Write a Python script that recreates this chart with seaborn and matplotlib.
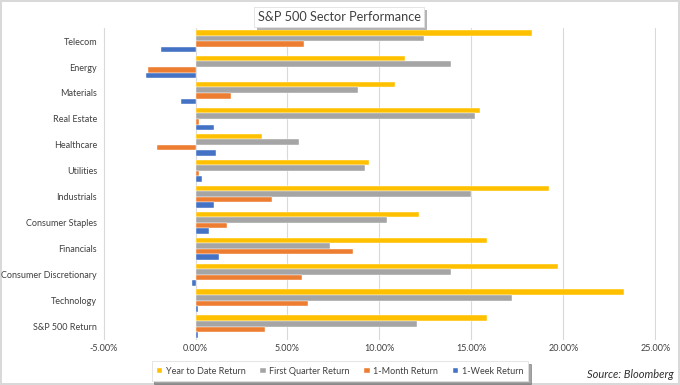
import matplotlib.patches as mpatches
import matplotlib.pyplot as plt
import matplotlib.ticker as mticker
import pandas as pd
import seaborn as sns

sectors: list[str] = [
    "Telecom",
    "Energy",
    "Materials",
    "Real Estate",
    "Healthcare",
    "Utilities",
    "Industrials",
    "Consumer Staples",
    "Financials",
    "Consumer Discretionary",
    "Technology",
    "S&P 500 Return",
]
series_names: list[str] = [
    "Year to Date Return",
    "First Quarter Return",
    "1-Month Return",
    "1-Week Return",
]
# values in percent
ytd = [18.3, 11.4, 10.85, 15.45, 3.6, 9.45, 19.2, 12.15, 15.85, 19.7, 23.3, 15.85]
first_quarter = [12.4, 13.9, 8.85, 15.2, 5.65, 9.2, 15.0, 10.4, 7.3, 13.9, 17.2, 12.05]
one_month = [5.9, -2.6, 1.95, 0.2, -2.1, 0.2, 4.15, 1.7, 8.55, 5.8, 6.1, 3.8]
one_week = [-1.9, -2.7, -0.8, 1.0, 1.1, 0.35, 1.0, 0.75, 1.25, -0.2, 0.15, 0.15]
x_ticks = [-5, 0, 5, 10, 15, 20, 25]

colors: list[str] = ["#FFC000", "#A5A5A5", "#ED7D31", "#4472C4"]

W, H = 680, 385


def build_frame() -> pd.DataFrame:
    wide = pd.DataFrame(
        {
            "sector": sectors,
            series_names[0]: ytd,
            series_names[1]: first_quarter,
            series_names[2]: one_month,
            series_names[3]: one_week,
        }
    )
    return wide.melt(id_vars="sector", var_name="series", value_name="value")


def px_rect(x0: float, y0: float, x1: float, y1: float, **kw) -> mpatches.Rectangle:
    # rectangle given in picture pixels (top-left origin)
    return mpatches.Rectangle(
        (x0 / W, 1 - y1 / H), (x1 - x0) / W, (y1 - y0) / H, transform=plt.gcf().transFigure, **kw
    )


def main() -> None:
    sns.set_style("white")
    plt.rcParams["font.family"] = ["Lato", "DejaVu Sans"]

    df = build_frame()
    fig = plt.figure(figsize=(6.8, 3.85), dpi=100)
    fig.patch.set_edgecolor("#D9D9D9")
    fig.patch.set_linewidth(1.5)
    ax = fig.add_axes([0.151, 0.118, 0.814, 0.809])

    sns.barplot(
        data=df,
        x="value",
        y="sector",
        hue="series",
        hue_order=series_names,
        order=sectors,
        palette=colors,
        saturation=1,
        orient="h",
        width=0.86,
        gap=0.0,
        ax=ax,
        legend=True,
        zorder=2,
        edgecolor="white",
        linewidth=0.3,
    )

    ax.set_xlim(-5.05, 25.05)
    ax.set_xticks(x_ticks)
    ax.xaxis.set_major_formatter(mticker.FuncFormatter(lambda v, _: f"{v:.2f}%"))
    ax.grid(axis="x", color="#D9D9D9", linewidth=0.8, zorder=0)
    ax.set_xlabel("")
    ax.set_ylabel("")
    for spine in ax.spines.values():
        spine.set_visible(False)
    ax.tick_params(axis="both", length=0, labelsize=6.5, colors="#404040")
    ax.tick_params(axis="y", pad=4)

    handles, labels = ax.get_legend_handles_labels()
    ax.legend_.remove()
    leg = fig.legend(
        handles,
        labels,
        loc="center",
        bbox_to_anchor=(0.5, 0.036),
        ncol=4,
        fontsize=6.5,
        frameon=True,
        shadow=True,
        handlelength=0.6,
        handleheight=0.6,
        handletextpad=0.4,
        columnspacing=1.6,
        borderpad=0.6,
        fancybox=False,
    )
    leg.get_frame().set_edgecolor("#E0E0E0")
    leg.get_frame().set_linewidth(0.6)
    for t in leg.get_texts():
        t.set_color("#404040")

    # title box with drop shadow
    fig.patches.append(px_rect(257, 10, 427, 30, facecolor="#B5B5B5", edgecolor="none"))
    fig.patches.append(px_rect(254, 7, 424, 27, facecolor="white", edgecolor="#E0E0E0", linewidth=0.6))
    fig.text(
        339 / W,
        1 - 17 / H,
        "S&P 500 Sector Performance",
        ha="center",
        va="center",
        fontsize=9.2,
        color="#404040",
    )

    fig.text(0.99, 0.028, "Source: Bloomberg", ha="right", va="center", fontsize=8, style="italic", color="#303030")

    fig.savefig("out.png", dpi=100)
    plt.close(fig)


if __name__ == "__main__":
    main()
